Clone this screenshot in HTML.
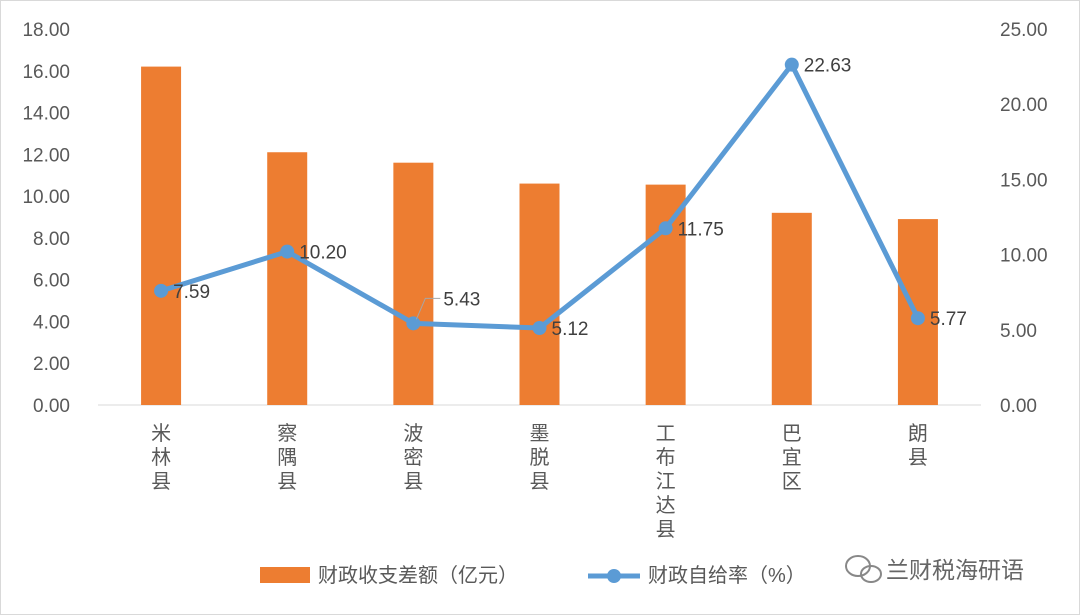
<!DOCTYPE html>
<html><head><meta charset="utf-8"><style>
html,body{margin:0;padding:0;background:#fff;}
svg{display:block;font-family:"Liberation Sans","Noto Sans CJK SC",sans-serif;}
</style></head><body>
<svg id="chart" width="1080" height="615" viewBox="0 0 1080 615">
<rect x="0.5" y="0.5" width="1079" height="614" fill="#fff" stroke="#d9d9d9"/>
<g id="grid"></g><g id="bars"></g><g id="line"></g><g id="labels"></g>
<g>
<rect x="260" y="567" width="50" height="16" fill="#ED7D31"/>
<text x="318" y="582" font-size="20" fill="#595959">财政收支差额（亿元）</text>
<line x1="588" y1="576" x2="640" y2="576" stroke="#5B9BD5" stroke-width="5"/>
<circle cx="614" cy="576" r="7" fill="#5B9BD5"/>
<text x="648" y="582" font-size="20" fill="#595959">财政自给率（%）</text>
</g>
<g>
<ellipse cx="858" cy="566" rx="12" ry="10" fill="none" stroke="#888" stroke-width="2"/>
<ellipse cx="871" cy="574" rx="10" ry="8" fill="none" stroke="#888" stroke-width="2"/>
<text x="886" y="578" font-size="23" fill="#666">兰财税海研语</text>
</g>
</svg>
<script>
const categories=["米林县","察隅县","波密县","墨脱县","工布江达县","巴宜区","朗县"];
const barValues=[16.2,12.1,11.6,10.6,10.55,9.2,8.9];
const lineValues=[7.59,10.20,5.43,5.12,11.75,22.63,5.77];
const leftTicks=["0.00","2.00","4.00","6.00","8.00","10.00","12.00","14.00","16.00","18.00"];
const rightTicks=["0.00","5.00","10.00","15.00","20.00","25.00"];
const NS="http://www.w3.org/2000/svg";
const x0=98,x1=981,y0=405,yTop=29;
const yL=v=>y0-(v/18)*(y0-yTop);
const yR=v=>y0-(v/25)*(y0-yTop);
const bw=(x1-x0)/categories.length;
const xc=i=>x0+bw*(i+0.5);
function mk(tag,attrs,parent,txt){const e=document.createElementNS(NS,tag);for(const k in attrs)e.setAttribute(k,attrs[k]);if(txt!==undefined)e.textContent=txt;document.getElementById(parent).appendChild(e);return e;}
leftTicks.forEach(t=>{const e=mk("text",{x:70,y:yL(+t)+7,"text-anchor":"end","font-size":19,fill:"#595959"},"labels",t);

});
rightTicks.forEach(t=>{const e=mk("text",{x:1000,y:yR(+t)+7,"font-size":19,fill:"#595959"},"labels",t);

});
const ax=mk("line",{x1:x0,x2:x1,y1:y0,y2:y0,stroke:"#d9d9d9","stroke-width":1},"grid");


categories.forEach((c,i)=>{
 const b=mk("rect",{x:xc(i)-20,y:yL(barValues[i]),width:40,height:y0-yL(barValues[i]),fill:"#ED7D31"},"bars");
 
 
 [...c].forEach((ch,j)=>{const t=mk("text",{x:xc(i),y:440+j*24,"text-anchor":"middle","font-size":20,fill:"#595959"},"labels",ch);
 
 });
});
const pts=lineValues.map((v,i)=>xc(i)+","+yR(v)).join(" ");
const pl=mk("polyline",{points:pts,fill:"none",stroke:"#5B9BD5","stroke-width":5,"stroke-linejoin":"round"},"line");


lineValues.forEach((v,i)=>{
 const p=mk("circle",{cx:xc(i),cy:yR(v),r:7,fill:"#5B9BD5"},"line");
 
 
 let lx=xc(i)+12,ly=yR(v)+7;
 if(i===2){lx=xc(i)+30;ly=yR(v)-18;}
 const t=mk("text",{x:lx,y:ly,"font-size":19,fill:"#404040"},"labels",v.toFixed(2));
 
 
});
const ld=mk("polyline",{points:(xc(2)+3)+","+(yR(lineValues[2])-4)+" "+(xc(2)+12)+","+(yR(lineValues[2])-25)+" "+(xc(2)+27)+","+(yR(lineValues[2])-25),fill:"none",stroke:"#a6a6a6","stroke-width":1},"labels");


</script>
</body></html>
